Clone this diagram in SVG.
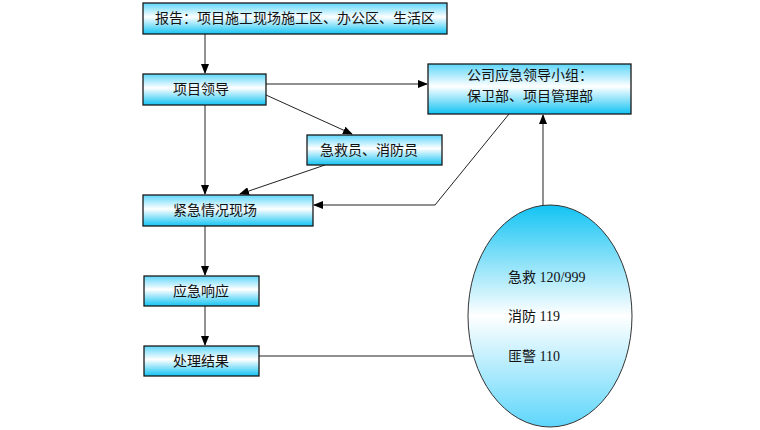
<svg xmlns="http://www.w3.org/2000/svg" width="760" height="430" viewBox="0 0 760 430">
<defs>
<linearGradient id="gBox" x1="0" y1="0" x2="0" y2="1">
<stop offset="0" stop-color="#5ed6fb"/>
<stop offset="0.45" stop-color="#ffffff"/>
<stop offset="1" stop-color="#12c3f3"/>
</linearGradient>
<linearGradient id="gEll" x1="0" y1="0" x2="0" y2="1">
<stop offset="0" stop-color="#12c3f3"/>
<stop offset="0.5" stop-color="#ffffff"/>
<stop offset="1" stop-color="#5ed6fb"/>
</linearGradient>
<marker id="arr" markerWidth="10" markerHeight="8" refX="9" refY="4" orient="auto" markerUnits="userSpaceOnUse">
<path d="M0,0 L10,4 L0,8 Z" fill="#000"/>
</marker>
<style>
.box{fill:url(#gBox);stroke:#1a1a1a;stroke-width:1.3}
.t{font-family:"Noto Sans CJK SC","Noto Sans CJK JP",sans-serif;font-size:14px;fill:#111}
.e{font-family:"Liberation Serif","Noto Sans CJK SC",serif;font-size:14px;fill:#111}
.c{fill:none;stroke:#222;stroke-width:1}
</style>
</defs>
<g id="connectors">
<line class="c" x1="205" y1="34" x2="205" y2="73" marker-end="url(#arr)"/>
<line class="c" x1="266" y1="84" x2="427" y2="84" marker-end="url(#arr)"/>
<line class="c" x1="266" y1="95" x2="352" y2="134" marker-end="url(#arr)"/>
<line class="c" x1="205" y1="105" x2="205" y2="194" marker-end="url(#arr)"/>
<line class="c" x1="325" y1="165" x2="240" y2="194" marker-end="url(#arr)"/>
<polyline class="c" points="509,114 435,205 314,205" marker-end="url(#arr)"/>
<line class="c" x1="543" y1="205" x2="543" y2="115" marker-end="url(#arr)"/>
<line class="c" x1="205" y1="226" x2="205" y2="275" marker-end="url(#arr)"/>
<line class="c" x1="205" y1="306" x2="205" y2="345" marker-end="url(#arr)"/>
<line class="c" x1="259" y1="356" x2="475" y2="356"/>
</g>
<g id="report">
<rect class="box" x="143" y="3" width="304" height="31"/>
<text class="t" x="155" y="23">报告：项目施工现场施工区、办公区、生活区</text>
</g>
<g id="leader">
<rect class="box" x="143" y="74" width="123" height="31"/>
<text class="t" x="173" y="94">项目领导</text>
</g>
<g id="company">
<rect class="box" x="428" y="64" width="203" height="50"/>
<text class="t" x="530" y="80" text-anchor="middle">公司应急领导小组：</text>
<text class="t" x="530" y="101" text-anchor="middle">保卫部、项目管理部</text>
</g>
<g id="rescuers">
<rect class="box" x="307" y="135" width="135" height="30"/>
<text class="t" x="320" y="155">急救员、消防员</text>
</g>
<g id="scene">
<rect class="box" x="143" y="195" width="170" height="31"/>
<text class="t" x="173" y="215">紧急情况现场</text>
</g>
<g id="response">
<rect class="box" x="144" y="276" width="115" height="30"/>
<text class="t" x="173" y="296">应急响应</text>
</g>
<g id="result">
<rect class="box" x="144" y="346" width="115" height="30"/>
<text class="t" x="173" y="366">处理结果</text>
</g>
<g id="emergency">
<ellipse cx="550" cy="316" rx="82" ry="111" fill="url(#gEll)" stroke="#333" stroke-width="1"/>
<text class="e" x="508" y="282">急救 120/999</text>
<text class="e" x="508" y="321">消防 119</text>
<text class="e" x="508" y="361">匪警 110</text>
</g>
</svg>
